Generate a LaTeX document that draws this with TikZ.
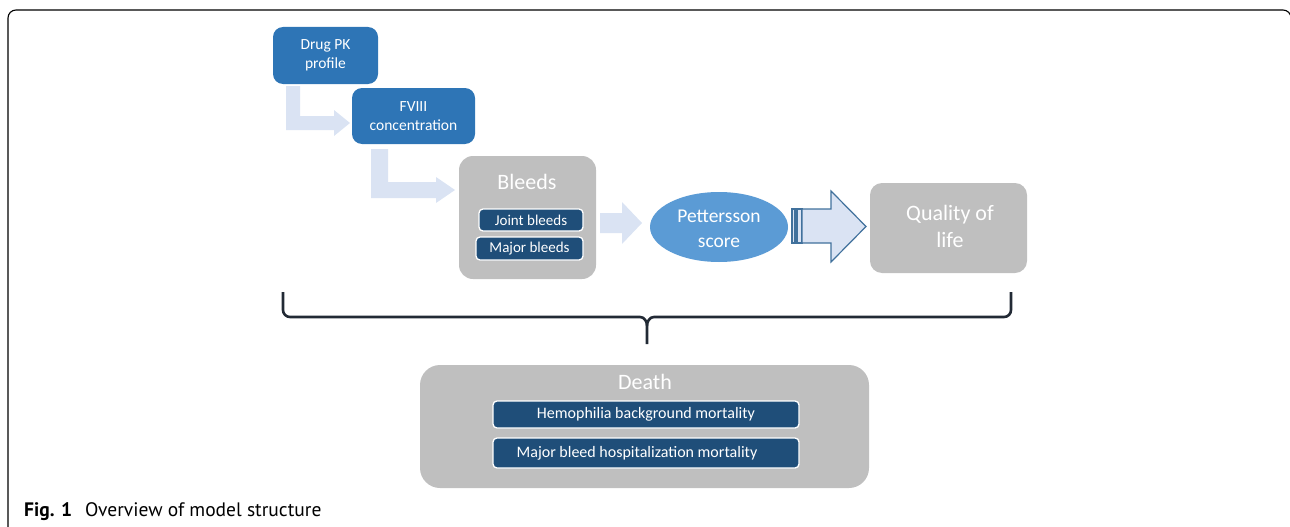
\documentclass[tikz,border=0pt]{standalone}
\usepackage{fontspec}
\setmainfont{Carlito}
\newfontfamily\capfont{PT Sans}
\usetikzlibrary{shapes.geometric}
\definecolor{pkblue}{HTML}{2E75B6}
\definecolor{lightarrow}{HTML}{DAE3F3}
\definecolor{ellblue}{HTML}{5B9BD5}
\definecolor{boxgray}{HTML}{BFBFBF}
\definecolor{navy}{HTML}{1F4E79}
\definecolor{arrowline}{HTML}{41719C}
\definecolor{bracecol}{HTML}{222A35}
\tikzset{
  bluebox/.style={fill=pkblue, draw=none, rounded corners=10pt, text=white, align=center, inner sep=0pt, font=\fontsize{15.5}{18.6}\selectfont},
  graybox/.style={fill=boxgray, draw=none, inner sep=0pt},
  graytitle/.style={text=white, inner sep=0pt, font=\fontsize{22}{26.5}\selectfont, align=center},
  innerbox/.style={fill=navy, draw=white, line width=1.3pt, rounded corners=4pt, text=white, inner sep=0pt},
  blockarrow/.style={fill=lightarrow, draw=none},
  stripearrow/.style={fill=lightarrow, draw=arrowline, line width=1.2pt, line join=miter},
  bracestyle/.style={draw=bracecol, line width=2.6pt},
}
\begin{document}
\begin{tikzpicture}[x=1pt, y=-1pt]
\useasboundingbox (0,0) rectangle (1290,527);
% frame
\draw[line width=1.1pt, rounded corners=8pt] (8,540) -- (8,10) -- (1291,10) -- (1291,540);

% bent arrows
\path[blockarrow] (286,86) -- (300,86) -- (300,116) -- (334,116) -- (334,110) -- (350,123) -- (334,136) -- (334,130) -- (286,130) -- cycle;
\path[blockarrow] (371,149) -- (388,149) -- (388,182) -- (436,182) -- (436,177) -- (455,190) -- (436,203) -- (436,198) -- (371,198) -- cycle;

% top boxes
\node[bluebox, minimum width=105pt, minimum height=57pt] (pk) at (325.5,55.5) {Drug PK\\profile};
\node[bluebox, minimum width=123pt, minimum height=56pt] (fviii) at (413.5,116) {FVIII\\concentration};

% Bleeds
\node[graybox, rounded corners=14pt, minimum width=137pt, minimum height=123pt] (bleeds) at (527.5,217.5) {};
\node[graytitle] (bleedst) at (527,182) {Bleeds};
\node[innerbox, minimum width=104pt, minimum height=22pt, font=\fontsize{15}{17}\selectfont] (joint) at (531,220) {Joint bleeds};
\node[innerbox, minimum width=107pt, minimum height=23pt, font=\fontsize{15}{17}\selectfont] (major) at (529.5,248.5) {Major bleeds};

% arrow bleeds -> pettersson
\path[blockarrow] (600,213) -- (622,213) -- (622,202) -- (642,223) -- (622,244) -- (622,233) -- (600,233) -- cycle;

% Pettersson
\node[ellipse, fill=ellblue, draw=none, minimum width=138pt, minimum height=70pt, inner sep=0pt, text=white, align=center, font=\fontsize{19.5}{25}\selectfont] (pet) at (719,227) {};
\node[text=white, align=center, inner sep=0pt, font=\fontsize{19.5}{25}\selectfont] (pett) at (719,229) {Pettersson\\score};

% striped arrow
\path[stripearrow] (792,209) rectangle (795,243);
\path[stripearrow] (797,209) rectangle (802,243);
\path[stripearrow] (802,209) -- (831,209) -- (831,191) -- (866,226.5) -- (831,262) -- (831,243) -- (802,243) -- cycle;

% Quality of life
\node[graybox, rounded corners=12pt, minimum width=157pt, minimum height=90pt] (qol) at (948.5,228) {};
\node[text=white, align=center, inner sep=0pt, font=\fontsize{22}{27}\selectfont] (qolt) at (950,226.5) {Quality of\\life};

% brace
\draw[bracestyle] (283,292) -- (283,310) to[out=-90,in=180] (290,317) -- (640,317) to[out=0,in=90] (647,326) -- (647,344);
\draw[bracestyle] (1011,292) -- (1011,310) to[out=-90,in=0] (1004,317) -- (654,317) to[out=180,in=90] (647,326);

% Death
\node[graybox, rounded corners=20pt, minimum width=449pt, minimum height=123pt] (death) at (644.5,426.5) {};
\node[graytitle] (deatht) at (645,382) {Death};
\node[innerbox, minimum width=306pt, minimum height=27pt, font=\fontsize{16}{19}\selectfont] (hemo) at (646,414.5) {Hemophilia background mortality};
\node[innerbox, minimum width=306pt, minimum height=30pt] (mbh) at (646,453) {};
\node[text=white, inner sep=0pt, font=\fontsize{16}{19}\selectfont] (mbht) at (637,453) {Major bleed hospitalization mortality};

% caption
\node[anchor=base west, inner sep=0pt, font=\capfont\bfseries\fontsize{19.5}{23}\selectfont] (figno) at (24,516) {Fig. 1};
\node[anchor=base west, inner sep=0pt, font=\capfont\fontsize{19.5}{23}\selectfont] (figcap) at (85,516) {Overview of model structure};
\end{tikzpicture}
\end{document}
